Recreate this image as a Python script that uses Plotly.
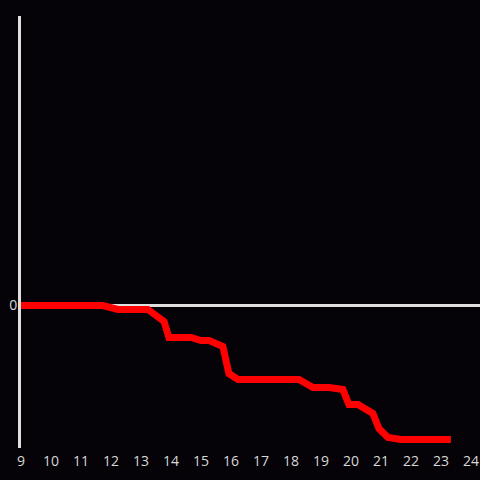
import plotly.graph_objects as go

hours = [9.0, 11.73, 12.23, 13.23, 13.77, 13.93, 14.67, 15.0, 15.27, 15.73, 15.93,
         16.23, 18.27, 18.73, 19.27, 19.73, 19.93, 20.23, 20.73, 20.93, 21.23, 21.67, 23.33]
values = [0, 0, -0.4, -0.4, -1.6, -3.2, -3.2, -3.5, -3.5, -4.1, -6.8,
          -7.4, -7.4, -8.2, -8.2, -8.4, -9.9, -9.9, -10.8, -12.3, -13.2, -13.4, -13.4]
x_ticks = list(range(9, 25))

bg = "#050308"
axis_col = "#e0e0e0"

fig = go.Figure()
fig.add_trace(go.Scatter(x=hours, y=values, mode="lines",
                         line=dict(color="#ff0000", width=7), hoverinfo="skip"))

fig.update_layout(
    width=480, height=480,
    paper_bgcolor=bg, plot_bgcolor=bg,
    margin=dict(l=21, r=0, t=16, b=32),
    showlegend=False,
    font=dict(family="Open Sans", size=14, color="#d8d8d8"),
    xaxis=dict(range=[9, 24.3], tickvals=x_ticks, showgrid=False, zeroline=False,
               showline=False, ticks="", ticklen=0, ticklabelstandoff=3),
    yaxis=dict(range=[-14.25, 28.95], tickvals=[0], showgrid=False,
               zeroline=True, zerolinecolor=axis_col, zerolinewidth=3,
               showline=True, linecolor=axis_col, linewidth=3, ticks="",
               ticklabelstandoff=-2),
)

fig.write_html("out.html", config={"displayModeBar": False},
               post_script="document.body.style.margin='0';document.body.style.background='#050308';")
